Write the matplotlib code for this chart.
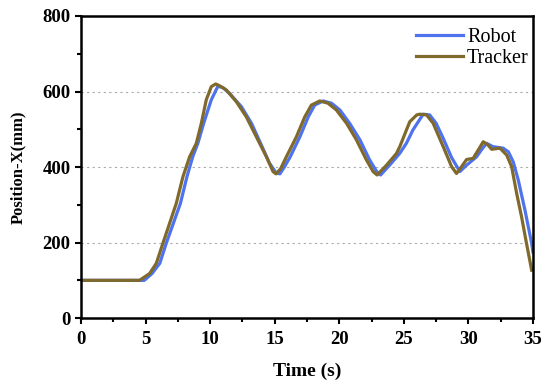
import matplotlib.pyplot as plt
from matplotlib.ticker import MultipleLocator

# values
robot_t = [0, 4.9, 5.5, 6.1, 6.6, 7.15, 7.7, 8.2, 8.65, 9.05, 9.5, 10.09, 10.6, 11.0,
           11.5, 12.42, 13.2, 13.97, 14.6, 15.1, 15.4, 15.75, 16.2, 16.95, 17.6, 18.1,
           18.75, 19.4, 20.05, 20.8, 21.6, 22.35, 22.9, 23.2, 23.9, 24.7, 25.2, 25.7,
           26.5, 27.0, 27.5, 28.05, 28.7, 29.34, 29.86, 30.63, 31.0, 31.4, 31.9, 32.7,
           33.1, 33.47, 33.86, 34.38, 34.9, 35.0]
robot_x = [100, 100, 118, 145, 198, 251, 304, 374, 427, 463, 516, 578, 614, 610,
           595, 560, 516, 458, 410, 385, 382, 400, 427, 480, 533, 564,
           575, 569, 551, 516, 472, 419, 388, 379, 405, 437, 463, 498,
           540, 538, 516, 476, 425, 388, 405, 427, 445, 463, 454, 450,
           440, 414, 366, 286, 198, 175]

tracker_t = [0, 4.53, 5.31, 5.83, 6.34, 6.86, 7.38, 7.89, 8.41, 8.93, 9.32, 9.7, 10.09,
             10.43, 10.8, 11.26, 12.03, 12.8, 13.58, 14.36, 14.87, 15.1, 15.45, 15.9,
             16.68, 17.33, 17.84, 18.49, 19.13, 19.78, 20.56, 21.33, 22.1, 22.62, 22.93,
             23.66, 24.43, 24.7, 25.2, 25.46, 26.0, 26.24, 26.76, 27.27, 28.05, 28.7,
             29.08, 29.47, 29.86, 30.37, 30.76, 31.15, 31.53, 31.8, 32.44, 32.96, 33.35,
             33.74, 34.12, 34.5, 34.9]
tracker_x = [100, 100, 118, 145, 198, 251, 304, 374, 427, 463, 516, 578, 613,
             620, 614, 604, 573, 533, 480, 427, 388, 382, 395, 427,
             480, 533, 564, 575, 569, 551, 516, 472, 419, 388, 379,
             405, 436, 455, 498, 520, 538, 540, 538, 516, 454, 401,
             383, 401, 420, 423, 445, 467, 458, 447, 450, 432, 401,
             330, 268, 198, 127]

plt.rcParams['font.family'] = ['Liberation Serif', 'DejaVu Serif']

fig = plt.figure(figsize=(5.5, 3.87), dpi=100)
ax = fig.add_axes([0.1473, 0.178, 0.8217, 0.7807])

ax.plot(robot_t, robot_x, color='#4f73ee', lw=2.3, label='Robot',
        solid_joinstyle='round')
ax.plot(tracker_t, tracker_x, color='#7f6a2c', lw=2.3, label='Tracker',
        solid_joinstyle='round')

ax.set_xlim(0, 35)
ax.set_ylim(0, 800)
ax.xaxis.set_major_locator(MultipleLocator(5))
ax.xaxis.set_minor_locator(MultipleLocator(2.5))
ax.yaxis.set_major_locator(MultipleLocator(200))
ax.yaxis.set_minor_locator(MultipleLocator(100))
ax.tick_params(which='both', direction='out', width=1.5, labelsize=13.5)
ax.tick_params(axis='x', pad=5.5)
ax.tick_params(which='major', length=4)
ax.tick_params(which='minor', length=3)
for lab in ax.get_xticklabels() + ax.get_yticklabels():
    lab.set_fontweight('bold')
for s in ax.spines.values():
    s.set_linewidth(1.8)

ax.yaxis.grid(True, which='major', linestyle=(0, (2, 3)), color='#aaaaaa', lw=0.8)

ax.set_xlabel('Time (s)', fontsize=14, fontweight='bold', labelpad=10)
ax.set_ylabel('Position-X(mm)', fontsize=12, fontweight='bold', labelpad=12)

ax.legend(loc='upper right', bbox_to_anchor=(1.013, 0.993), frameon=False,
          handlelength=2.35, handletextpad=0.2, borderaxespad=0.3, borderpad=0.2,
          labelspacing=0.1, prop={'size': 14.5})

fig.savefig('out.png', dpi=100)
